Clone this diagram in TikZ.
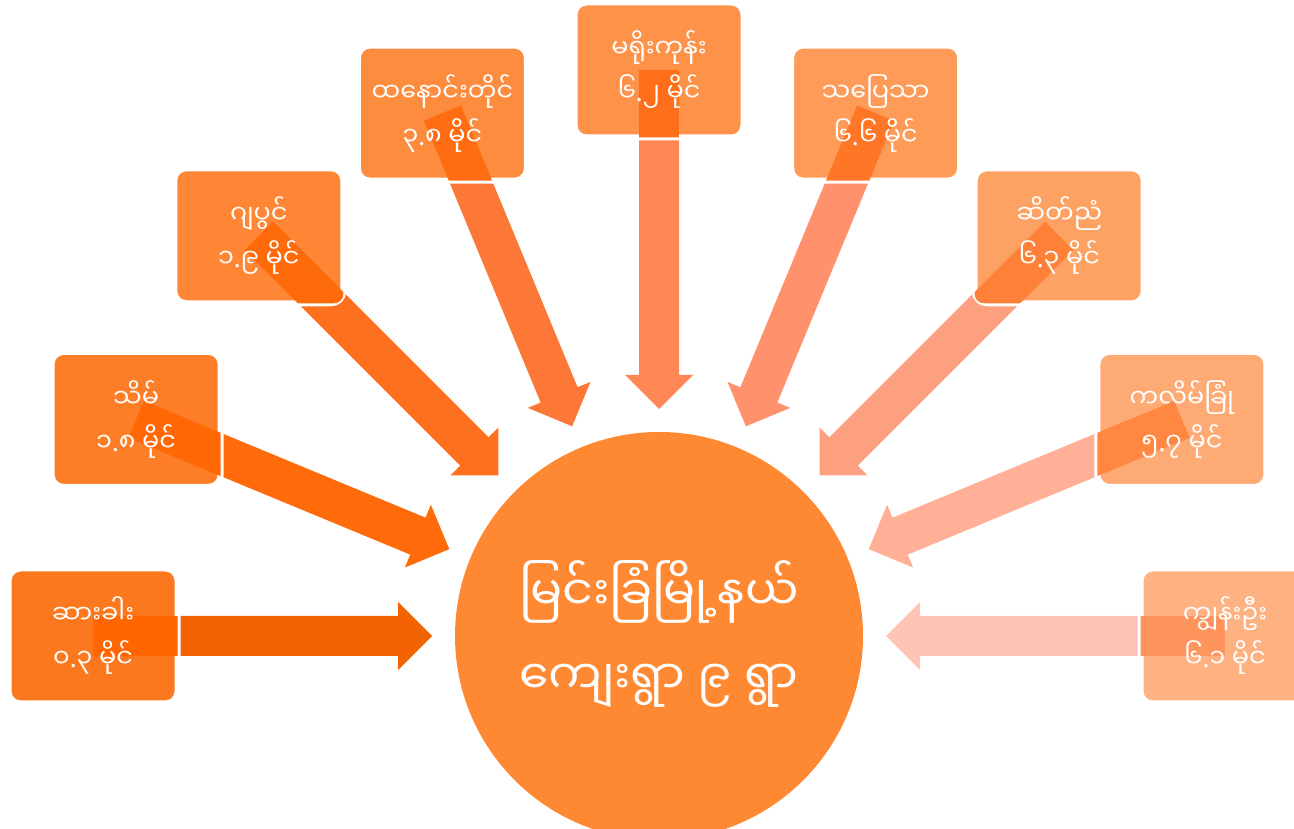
\documentclass[tikz,border=0pt]{standalone}
\usepackage{fontspec}
\setmainfont[Script=Myanmar]{Noto Sans Myanmar UI}
\newfontfamily\latn{Noto Sans}
\usetikzlibrary{calc}
\pgfdeclarelayer{background}
\pgfsetlayers{background,main}
\definecolor{circ}{RGB}{255,136,51}
\definecolor{ar1}{RGB}{242,98,0}
\definecolor{ar2}{RGB}{255,106,10}
\definecolor{ar3}{RGB}{254,112,30}
\definecolor{ar4}{RGB}{253,120,55}
\definecolor{ar5}{RGB}{255,135,85}
\definecolor{ar6}{RGB}{255,145,108}
\definecolor{ar7}{RGB}{253,160,128}
\definecolor{ar8}{RGB}{255,176,150}
\definecolor{ar9}{RGB}{255,196,182}
\definecolor{bx1}{RGB}{252,120,30}
\definecolor{bx2}{RGB}{253,126,38}
\definecolor{bx3}{RGB}{254,134,52}
\definecolor{bx4}{RGB}{254,140,62}
\definecolor{bx5}{RGB}{254,146,72}
\definecolor{bx6}{RGB}{254,155,88}
\definecolor{bx7}{RGB}{254,162,100}
\definecolor{bx8}{RGB}{254,170,116}
\definecolor{bx9}{RGB}{254,178,130}
\definecolor{tl1}{RGB}{255,102,0}
\definecolor{tl2}{RGB}{255,104,5}
\definecolor{tl3}{RGB}{255,106,10}
\definecolor{tl4}{RGB}{255,108,18}
\definecolor{tl5}{RGB}{255,110,25}
\definecolor{tl6}{RGB}{255,118,38}
\definecolor{tl7}{RGB}{255,128,55}
\definecolor{tl8}{RGB}{255,135,65}
\definecolor{tl9}{RGB}{255,148,92}
\newcommand\pd{{\latn .}}
\begin{document}
\begin{tikzpicture}[x=1pt,y=1pt,
  box/.style={rounded corners=12pt, minimum width=169pt, minimum height=135pt,
    inner sep=0pt, draw=white, line width=6pt},
  lbl/.style={align=center, text=white, inner sep=0pt,
    font=\fontsize{25.5}{44}\selectfont},
  hub/.style={circle, minimum size=408pt, fill=circ, inner sep=0pt,
    text=white, align=center, font=\fontsize{47.5}{84}\selectfont}]
\clip (0,0) rectangle (1294,828);
\node[hub] (cc) at (659,192) {};
\foreach \i/\ang in {1/180,2/157.5,3/135,4/112.5,5/90,6/67.5,7/45,8/22.5,9/0}{
  \node[box, fill=bx\i] (b\i) at ($(cc.center)+(\ang:566pt)$) {};
}
\begin{pgfonlayer}{background}
\foreach \i in {1,...,9}{
  \coordinate (tip\i) at ($(cc.center)!227pt!(b\i.center)$);
  \coordinate (hb\i) at ($(cc.center)!261pt!(b\i.center)$);
  \fill[ar\i] (tip\i) -- ($(hb\i)!34pt!90:(b\i.center)$) -- ($(hb\i)!20pt!90:(b\i.center)$)
    -- ($(b\i.center)!20pt!-90:(cc.center)$) -- ($(b\i.center)!20pt!90:(cc.center)$)
    -- ($(hb\i)!20pt!-90:(b\i.center)$) -- ($(hb\i)!34pt!-90:(b\i.center)$) -- cycle;
}
\end{pgfonlayer}
\foreach \i in {1,...,9}{
  \begin{scope}
    \clip[rounded corners=9pt] ($(b\i.south west)+(3,3)$) rectangle ($(b\i.north east)+(-3,-3)$);
    \coordinate (e\i) at ($(b\i.center)!140pt!(cc.center)$);
    \fill[tl\i] ($(b\i.center)!20pt!90:(cc.center)$) -- ($(e\i)!20pt!-90:(b\i.center)$)
      -- ($(e\i)!20pt!90:(b\i.center)$) -- ($(b\i.center)!20pt!-90:(cc.center)$) -- cycle;
  \end{scope}
}
\node[lbl] (t1) at (b1) {ဆားခါး\\၀\pd၃ မိုင်};
\node[lbl] (t2) at (b2) {သိမ်\\၁\pd၈ မိုင်};
\node[lbl] (t3) at (b3) {ဂျပွင်\\၁\pd၉ မိုင်};
\node[lbl] (t4) at (b4) {ထနောင်းတိုင်\\၃\pd၈ မိုင်};
\node[lbl] (t5) at (b5) {မရိုးကုန်း\\၆\pd၂ မိုင်};
\node[lbl] (t6) at (b6) {သပြေသာ\\၆\pd၆ မိုင်};
\node[lbl] (t7) at (b7) {ဆိတ်ညံ\\၆\pd၃ မိုင်};
\node[lbl] (t8) at (b8) {ကလိမ်ခြုံ\\၅\pd၇ မိုင်};
\node[lbl] (t9) at (b9) {ကျွန်းဦး\\၆\pd၁ မိုင်};
\node[hub, fill=none] (ct) at ([yshift=2pt]cc.center) {မြင်းခြံမြို့နယ်\\ကျေးရွာ ၉ ရွာ};
\end{tikzpicture}
\end{document}
